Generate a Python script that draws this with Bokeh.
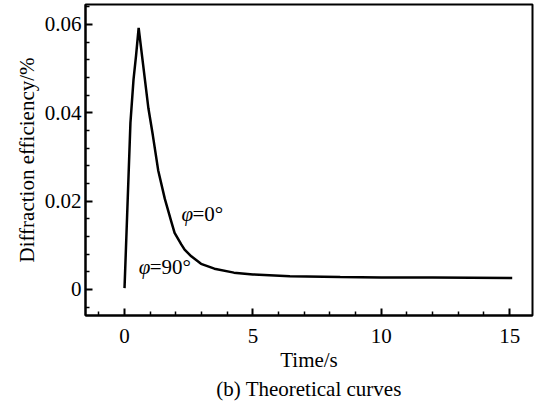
from bokeh.plotting import figure
from bokeh.models import Range1d, FixedTicker, Title, ColumnDataSource
from bokeh.core.properties import value
from bokeh.embed import file_html
from bokeh.resources import INLINE

# ---- data ----
time_s = [0, 0.1, 0.23, 0.35, 0.45, 0.55, 0.7, 0.93, 1.1, 1.31, 1.57, 1.83, 1.95,
          2.21, 2.34, 2.6, 2.98, 3.5, 4.26, 5.0, 6.44, 8.4, 10.0, 12.0, 15.1]
efficiency = [0.0003, 0.0165, 0.0377, 0.0475, 0.0530, 0.0592, 0.0520, 0.0410, 0.0350,
              0.0270, 0.0205, 0.0152, 0.0128, 0.0102, 0.0090, 0.0075, 0.0058, 0.0047,
              0.0038, 0.0034, 0.0030, 0.0028, 0.0027, 0.0027, 0.0026]

x_major = [0, 5, 10, 15]
x_minor = [-1, 1, 2, 3, 4, 6, 7, 8, 9, 11, 12, 13, 14]
y_major = [0, 0.02, 0.04, 0.06]
y_minor = [-0.004, 0.004, 0.008, 0.012, 0.016, 0.024, 0.028, 0.032, 0.036,
           0.044, 0.048, 0.052, 0.056, 0.064]

label_text = ["=0°", "=90°"]
label_t = [2.22, 0.55]
label_eff = [0.0170, 0.0050]

FONT = "Liberation Serif"

p = figure(width=534, height=404, output_backend="svg", toolbar_location=None,
           x_range=Range1d(-1.52, 15.89), y_range=Range1d(-0.0059, 0.0645),
           min_border_left=85, min_border_right=2, min_border_top=4,
           min_border_bottom=89)
p.grid.visible = False
p.outline_line_color = "black"
p.outline_line_width = 2
p.outline_line_alpha = 1.0
p.background_fill_color = "white"
p.border_fill_color = "white"

p.line(time_s, efficiency, line_color="black", line_width=2.5)

src = ColumnDataSource(dict(x=label_t, y=label_eff, t=label_text, phi=["φ"] * 2))
p.text(x="x", y="y", text="phi", source=src, text_font=value(FONT),
       text_font_size="21px", text_font_style="italic", text_align="left",
       text_baseline="middle", text_color="black")
p.text(x="x", y="y", text="t", source=src, text_font=value(FONT),
       text_font_size="21px", text_font_style="normal", text_align="left",
       text_baseline="middle", text_color="black", x_offset=11)

p.xaxis.ticker = FixedTicker(ticks=x_major, minor_ticks=x_minor)
p.yaxis.ticker = FixedTicker(ticks=y_major, minor_ticks=y_minor)
p.yaxis.major_label_overrides = {0: "0"}

for ax in (p.xaxis[0], p.yaxis[0]):
    ax.axis_line_width = 2
    ax.axis_line_color = "black"
    ax.major_tick_in = 7
    ax.major_tick_out = 0
    ax.minor_tick_in = 4
    ax.minor_tick_out = 0
    ax.major_tick_line_width = 2
    ax.minor_tick_line_width = 1.5
    ax.major_label_text_font = FONT
    ax.major_label_text_font_style = "normal"
    ax.major_label_text_font_size = "21px"
    ax.major_label_text_color = "black"

p.xaxis.major_label_standoff = 13
p.yaxis.major_label_standoff = 4
p.xaxis.axis_label = "Time/s"
p.xaxis.axis_label_text_font = FONT
p.xaxis.axis_label_text_font_size = "21px"
p.xaxis.axis_label_text_font_style = "normal"
p.xaxis.axis_label_text_color = "black"
p.xaxis.axis_label_standoff = 2

ylab = Title(text="Diffraction efficiency/%", align="center", offset=14,
             text_font=FONT, text_font_size="21px", text_font_style="normal",
             text_color="black", standoff=6)
p.add_layout(ylab, "left")

cap = Title(text="(b) Theoretical curves", align="center",
            text_font=FONT, text_font_size="21px", text_font_style="normal",
            text_color="black", standoff=1)
p.add_layout(cap, "below")

open("out.html", "w").write(file_html(p, INLINE))
